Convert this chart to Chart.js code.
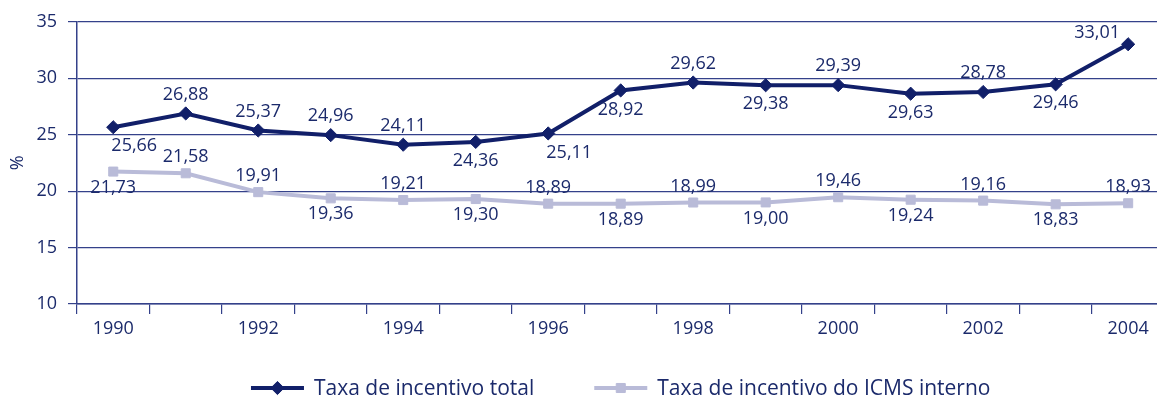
<!DOCTYPE html>
<html lang="pt-BR">
<head>
<meta charset="utf-8">
<title>Taxa de incentivo</title>
<script src="https://cdn.jsdelivr.net/npm/chart.js@4.4.1/dist/chart.umd.min.js"></script>
<style>
  html, body { margin: 0; padding: 0; background: #fff; overflow: hidden; }
  #grafico-wrap { width: 1172px; height: 402px; position: relative; }
</style>
</head>
<body>
<div id="grafico-wrap"><canvas id="grafico"></canvas></div>
<script>
// dados
const anos = ['1990', '1991', '1992', '1993', '1994', '1995', '1996', '1997',
              '1998', '1999', '2000', '2001', '2002', '2003', '2004'];
const taxaTotal = [25.66, 26.88, 25.37, 24.96, 24.11, 24.36, 25.11, 28.92,
                   29.62, 29.38, 29.39, 28.63, 28.78, 29.46, 33.01];
const rotulosTotal = ['25,66', '26,88', '25,37', '24,96', '24,11', '24,36', '25,11', '28,92',
                      '29,62', '29,38', '29,39', '29,63', '28,78', '29,46', '33,01'];
const taxaIcms = [21.73, 21.58, 19.91, 19.36, 19.21, 19.30, 18.89, 18.89,
                  18.99, 19.00, 19.46, 19.24, 19.16, 18.83, 18.93];
const rotulosIcms = ['21,73', '21,58', '19,91', '19,36', '19,21', '19,30', '18,89', '18,89',
                     '18,99', '19,00', '19,46', '19,24', '19,16', '18,83', '18,93'];
const ticksY = [10, 15, 20, 25, 30, 35];

const AZUL = '#1b2a6b';
const AZUL_LINHA = '#111f69';
const LILAS = '#b9bbd8';
const GRADE = '#34418a';
const FONTE = '"Open Sans", sans-serif';

Chart.defaults.font.family = FONTE;
Chart.defaults.color = AZUL;

// posição de cada rótulo: a = acima, b = abaixo, d/e = deslocado p/ direita/esquerda
const desloc = {
  a:  (o) => [0, -o],
  b:  (o) => [0, o],
  bd: (o) => [21, o],
  ae: (o) => [-31, -11]
};

const rotulosValores = {
  id: 'rotulosValores',
  afterDatasetsDraw(chart, args, opts) {
    const ctx = chart.ctx;
    ctx.save();
    ctx.font = opts.fonte;
    ctx.fillStyle = opts.cor;
    ctx.textAlign = 'center';
    ctx.textBaseline = 'middle';
    chart.data.datasets.forEach(function(ds, i) {
      const cfg = opts.series[i];
      chart.getDatasetMeta(i).data.forEach(function(pt, j) {
        const d = desloc[cfg.posicoes[j]](cfg.distancia);
        ctx.fillText(cfg.textos[j], pt.x + d[0], pt.y + d[1]);
      });
    });
    ctx.restore();
  }
};

const legendaLinhas = {
  id: 'legendaLinhas',
  afterDraw(chart, args, opts) {
    const ctx = chart.ctx;
    const area = chart.chartArea;
    ctx.save();
    ctx.font = opts.fonte;
    ctx.textBaseline = 'middle';
    ctx.textAlign = 'left';
    const itens = chart.data.datasets.map(function(ds) {
      return { ds: ds, largura: opts.marcador + opts.espaco + ctx.measureText(ds.label).width };
    });
    const total = itens.reduce((s, it) => s + it.largura, 0) + opts.separacao * (itens.length - 1);
    let x = (area.left + area.right - total) / 2;
    const y = opts.y;
    itens.forEach(function(it) {
      const ds = it.ds;
      ctx.strokeStyle = ds.borderColor;
      ctx.lineWidth = ds.borderWidth;
      ctx.beginPath();
      ctx.moveTo(x, y);
      ctx.lineTo(x + opts.marcador, y);
      ctx.stroke();
      ctx.fillStyle = ds.pointBackgroundColor;
      ctx.strokeStyle = ds.pointBorderColor;
      ctx.lineWidth = 1;
      Chart.helpers.drawPoint(ctx, { pointStyle: ds.pointStyle, radius: ds.pointRadius, rotation: 0, borderWidth: 1 },
        x + opts.marcador / 2, y);
      ctx.fillStyle = opts.cor;
      ctx.fillText(ds.label, x + opts.marcador + opts.espaco, y + 1);
      x += it.largura + opts.separacao;
    });
    ctx.restore();
  }
};

new Chart(document.getElementById('grafico'), {
  type: 'line',
  data: {
    labels: anos,
    datasets: [{
      label: 'Taxa de incentivo total',
      data: taxaTotal,
      order: 0,
      borderColor: AZUL_LINHA,
      borderWidth: 4,
      pointStyle: 'rectRot',
      pointRadius: 6.6,
      pointBackgroundColor: AZUL_LINHA,
      pointBorderColor: AZUL_LINHA,
      pointBorderWidth: 1,
      tension: 0
    }, {
      label: 'Taxa de incentivo do ICMS interno',
      data: taxaIcms,
      order: 1,
      borderColor: LILAS,
      borderWidth: 4,
      pointStyle: 'rect',
      pointRadius: 6.4,
      pointBackgroundColor: LILAS,
      pointBorderColor: LILAS,
      pointBorderWidth: 1,
      tension: 0
    }]
  },
  options: {
    responsive: true,
    maintainAspectRatio: false,
    animation: false,
    layout: { padding: { top: 19, left: 0, right: 2, bottom: 64 } },
    scales: {
      x: {
        offset: true,
        grid: { offset: true, drawOnChartArea: false, tickLength: 10, color: GRADE, lineWidth: 1.2 },
        border: { color: GRADE, width: 1.5 },
        ticks: {
          autoSkip: false, maxRotation: 0, padding: 4,
          font: { size: 18 }, color: AZUL,
          callback: function(v, i) { return i % 2 === 0 ? this.getLabelForValue(v) : ''; }
        },
        afterFit: function(s) { s.height = 34; }
      },
      y: {
        min: ticksY[0],
        max: ticksY[ticksY.length - 1],
        afterBuildTicks: function(s) { s.ticks = ticksY.map(v => ({ value: v })); },
        grid: { color: GRADE, lineWidth: 1.2, tickLength: 9 },
        border: { color: GRADE, width: 1.5 },
        ticks: { padding: 11, font: { size: 18 }, color: AZUL },
        title: { display: true, text: '%', font: { size: 18 }, color: AZUL, padding: { top: 7, bottom: 0 } },
        afterFit: function(s) { s.width = 77; }
      }
    },
    plugins: {
      legend: { display: false },
      tooltip: { enabled: false },
      rotulosValores: {
        fonte: '18px ' + FONTE,
        cor: AZUL,
        series: [
          { textos: rotulosTotal, distancia: 19,
            posicoes: ['bd', 'a', 'a', 'a', 'a', 'b', 'bd', 'b', 'a', 'b', 'a', 'b', 'a', 'b', 'ae'] },
          { textos: rotulosIcms, distancia: 16,
            posicoes: ['b', 'a', 'a', 'b', 'a', 'b', 'a', 'b', 'a', 'b', 'a', 'b', 'a', 'b', 'a'] }
        ]
      },
      legendaLinhas: {
        fonte: '21px ' + FONTE,
        cor: AZUL,
        y: 388,
        marcador: 53,
        espaco: 10,
        separacao: 60
      }
    }
  },
  plugins: [rotulosValores, legendaLinhas]
});
</script>
</body>
</html>
